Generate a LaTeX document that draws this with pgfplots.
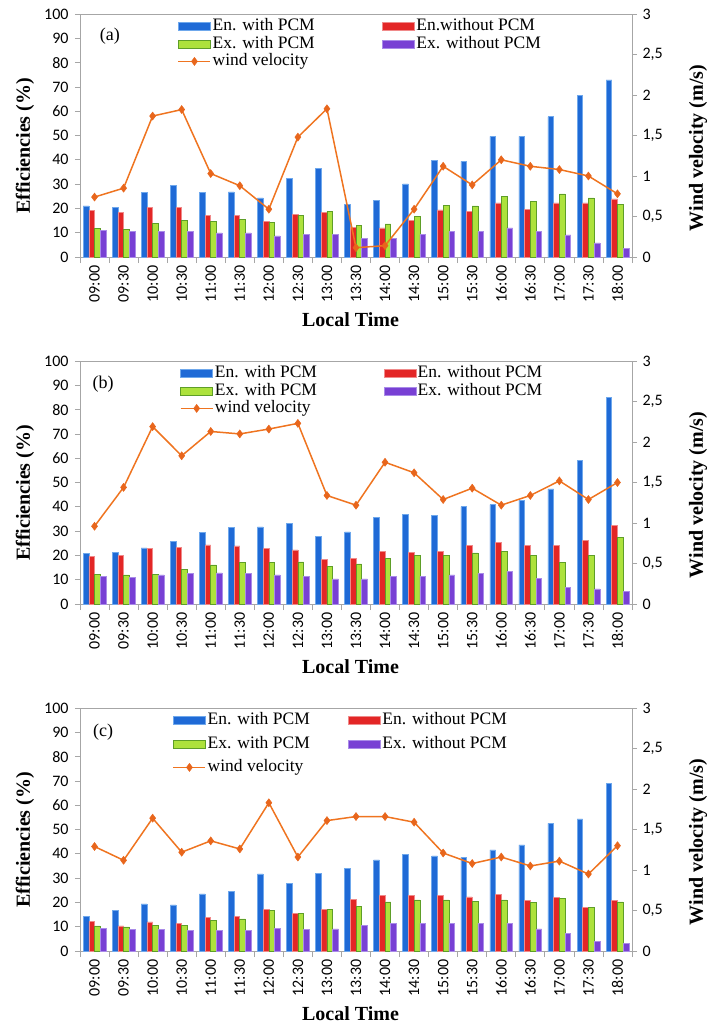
\documentclass[border=0pt]{standalone}
\usepackage{fontspec}
\setmainfont{Liberation Serif}
\newfontfamily\tickfont{Carlito}
\usepackage{pgfplots}
\usepackage{pgfplotstable}
\pgfplotsset{compat=1.18}

\definecolor{cBlue}{HTML}{1F6AD6}
\definecolor{cBlueE}{HTML}{6FA8EC}
\definecolor{cRed}{HTML}{E32626}
\definecolor{cRedE}{HTML}{F08A8A}
\definecolor{cGreen}{HTML}{ADE23C}
\definecolor{cGreenE}{HTML}{5E9E28}
\definecolor{cPurple}{HTML}{7840D4}
\definecolor{cPurpleE}{HTML}{A98BE8}
\definecolor{cOrange}{HTML}{EF7420}
\definecolor{cMark}{HTML}{E8661C}
\definecolor{cAxis}{HTML}{A6A6A6}

% x blue red green purple wind
\pgfplotstableread{
x blue red green purple wind
0  21.0 19.2 11.8 11.0 0.74
1  20.5 18.3 11.4 10.6 0.85
2  26.5 20.5 13.7 10.6 1.74
3  29.4 20.5 15.1 10.6 1.82
4  26.5 17.2 14.8  9.9 1.03
5  26.8 17.2 15.4  9.9 0.88
6  24.3 14.8 14.1  8.7 0.59
7  32.4 17.6 17.2  9.2 1.48
8  36.5 18.5 18.8  9.2 1.83
9  21.7 12.1 13.0  7.7 0.115
10 23.4 12.0 13.6  7.7 0.14
11 30.1 15.0 16.6  9.2 0.59
12 39.7 19.4 21.4 10.4 1.12
13 39.4 18.7 21.0 10.4 0.89
14 49.6 22.3 25.0 12.0 1.20
15 49.6 19.5 22.9 10.6 1.12
16 57.7 22.3 26.0  9.1 1.08
17 66.6 22.3 24.3  5.8 1.00
18 72.9 23.9 21.6  3.4 0.78
}\tabA

\pgfplotstableread{
x blue red green purple wind
0  20.9 19.5 12.2 11.4 0.96
1  21.4 19.9 12.0 11.0 1.44
2  23.1 22.8 12.2 12.0 2.19
3  25.8 23.4 14.1 12.6 1.83
4  29.5 24.3 16.1 12.8 2.13
5  31.5 23.9 17.0 12.6 2.10
6  31.7 22.9 17.0 12.0 2.16
7  33.1 22.3 17.3 11.5 2.23
8  27.9 18.3 15.4 10.3 1.34
9  29.7 18.7 16.5 10.3 1.22
10 35.7 21.7 18.8 11.4 1.75
11 37.0 21.4 19.9 11.4 1.62
12 36.3 21.7 19.9 12.0 1.29
13 40.1 24.2 21.0 12.6 1.43
14 40.9 25.4 21.7 13.3 1.22
15 42.6 24.2 19.9 10.6 1.34
16 47.4 24.2 17.2  6.9 1.52
17 59.1 26.1 19.9  6.2 1.29
18 84.9 32.4 27.3  5.2 1.50
}\tabB

\pgfplotstableread{
x blue red green purple wind
0  14.4 12.2 10.3  9.3 1.29
1  16.6 10.3  9.9  8.8 1.12
2  19.4 12.0 10.6  8.8 1.64
3  19.0 11.5 10.6  8.5 1.22
4  23.5 13.7 12.6  8.5 1.36
5  24.5 14.4 13.2  8.5 1.26
6  31.7 17.2 16.6  9.3 1.83
7  27.9 15.4 15.4  8.8 1.16
8  31.9 17.0 17.0  9.1 1.61
9  34.1 21.4 18.3 10.6 1.66
10 37.5 22.8 20.2 11.5 1.66
11 39.7 22.8 21.0 11.4 1.59
12 39.1 22.8 21.0 11.4 1.21
13 38.6 22.3 20.5 11.4 1.08
14 41.6 23.4 21.0 11.4 1.16
15 43.7 20.7 19.9  9.1 1.05
16 52.5 22.1 21.6  7.1 1.11
17 54.4 17.9 17.9  4.1 0.95
18 69.0 20.9 20.2  3.0 1.30
}\tabC

\newcommand{\tickfs}{\tickfont\fontsize{16bp}{18bp}\selectfont}
\newcommand{\labfs}{\fontsize{20bp}{22bp}\selectfont\bfseries}

\pgfplotsset{
  common/.style={
    scale only axis, width=552bp, height=243bp,
    xmin=-0.5, xmax=18.5,
    axis line style={cAxis, line width=0.8bp},
    tick style={cAxis, line width=0.8bp},
    tick align=outside,
    major tick length=5bp,
    clip=false,
  },
  panelL/.style={
    common,
    ymin=0, ymax=100,
    ytick={0,10,...,100},
    yticklabels={0,10,20,30,40,50,60,70,80,90,100},
    y tick label style={font=\tickfs, xshift=-3bp},
    xtick={0,...,18},
    xticklabels={09:00,09:30,10:00,10:30,11:00,11:30,12:00,12:30,13:00,13:30,14:00,14:30,15:00,15:30,16:00,16:30,17:00,17:30,18:00},
    x tick label style={font=\tickfs, rotate=90, anchor=east, yshift=0bp},
    major x tick style={draw=none},
    minor xtick={-0.5,0.5,...,18.5},
    minor tick length=6bp,
    xtick pos=lower, ytick pos=left,
    ybar=0pt, bar width=5.7bp,
    xlabel={Local Time},
    xlabel style={font=\labfs, at={(rel axis cs:0.49,-0.259)}, anchor=center},
    ylabel={Efficiencies (\%)},
    ylabel style={font=\labfs, at={(rel axis cs:-0.0996,0.457)}, anchor=center, rotate=0},
  },
  panelR/.style={
    common,
    ymin=0, ymax=3,
    axis x line=none,
    axis y line*=right,
    ytick={0,0.5,...,3},
    yticklabels={0,{0,5},1,{1,5},2,{2,5},3},
    y tick label style={font=\tickfs, xshift=2bp},
    ytick pos=right,
    ylabel={Wind velocity (m/s)},
    ylabel style={font=\labfs, at={(rel axis cs:1.1196,0.449)}, anchor=center, rotate=0},
    legend columns=2,
    legend cell align=left,
    legend image code/.code={\draw[#1] (0bp,-4bp) rectangle (32bp,4bp);},
    legend style={draw=none, fill=none, anchor=north west, inner sep=0pt, outer sep=0pt,
      font=\fontsize{17.5bp}{19bp}\selectfont,
      nodes={inner xsep=1.5bp, inner ysep=1bp, text height=12bp, text depth=3.5bp}},
  },
  bBlue/.style={fill=cBlue, draw=cBlueE, line width=0.6bp},
  bRed/.style={fill=cRed, draw=cRedE, line width=0.6bp},
  bGreen/.style={fill=cGreen, draw=cGreenE, line width=0.6bp},
  bPurple/.style={fill=cPurple, draw=cPurpleE, line width=0.6bp},
  wind/.style={color=cOrange, line width=1.5bp, mark=diamond*, mark size=4bp,
    mark options={fill=cMark, draw=cMark, line width=0.5bp},
    legend image code/.code={\draw[##1, mark repeat=2, mark phase=2] plot coordinates {(0bp,0bp) (16bp,0bp) (32bp,0bp)};}},
}

\begin{document}
\begin{tikzpicture}
\path[use as bounding box] (0bp,0bp) rectangle (713bp,-1026bp);

% ---------------- (a)
\begin{axis}[panelL, at={(80bp,-257bp)}, anchor=south west]
\addplot[bBlue] table[x=x,y=blue] {\tabA};
\addplot[bRed] table[x=x,y=red] {\tabA};
\addplot[bGreen] table[x=x,y=green] {\tabA};
\addplot[bPurple] table[x=x,y=purple] {\tabA};
\node[font=\fontsize{18bp}{19bp}\selectfont] at (rel axis cs:0.054,0.91) {(a)};
\end{axis}
\begin{axis}[panelR, at={(80bp,-257bp)}, anchor=south west,
  legend style={at={(rel axis cs:0.177,0.985)}, /tikz/every even column/.append style={column sep=66bp}}]
\addlegendimage{bBlue}\addlegendentry{En. with PCM}
\addlegendimage{bRed}\addlegendentry{En.without PCM}
\addlegendimage{bGreen}\addlegendentry{Ex. with PCM}
\addlegendimage{bPurple}\addlegendentry{Ex. without PCM}
\addplot[wind] table[x=x,y=wind] {\tabA};
\addlegendentry{wind velocity}
\end{axis}

% ---------------- (b)
\begin{axis}[panelL, at={(80bp,-604bp)}, anchor=south west]
\addplot[bBlue] table[x=x,y=blue] {\tabB};
\addplot[bRed] table[x=x,y=red] {\tabB};
\addplot[bGreen] table[x=x,y=green] {\tabB};
\addplot[bPurple] table[x=x,y=purple] {\tabB};
\node[font=\fontsize{18bp}{19bp}\selectfont] at (rel axis cs:0.042,0.905) {(b)};
\end{axis}
\begin{axis}[panelR, at={(80bp,-604bp)}, anchor=south west,
  legend style={at={(rel axis cs:0.181,0.985)}, /tikz/every even column/.append style={column sep=65bp}}]
\addlegendimage{bBlue}\addlegendentry{En. with PCM}
\addlegendimage{bRed}\addlegendentry{En. without PCM}
\addlegendimage{bGreen}\addlegendentry{Ex. with PCM}
\addlegendimage{bPurple}\addlegendentry{Ex. without PCM}
\addplot[wind] table[x=x,y=wind] {\tabB};
\addlegendentry{wind velocity}
\end{axis}

% ---------------- (c)
\begin{axis}[panelL, at={(80bp,-951bp)}, anchor=south west]
\addplot[bBlue] table[x=x,y=blue] {\tabC};
\addplot[bRed] table[x=x,y=red] {\tabC};
\addplot[bGreen] table[x=x,y=green] {\tabC};
\addplot[bPurple] table[x=x,y=purple] {\tabC};
\node[font=\fontsize{18bp}{19bp}\selectfont] at (rel axis cs:0.042,0.9) {(c)};
\end{axis}
\begin{axis}[panelR, at={(80bp,-951bp)}, anchor=south west,
  legend style={at={(rel axis cs:0.168,0.985)}, /tikz/every even column/.append style={column sep=37bp},
    /tikz/row sep=6bp}]
\addlegendimage{bBlue}\addlegendentry{En. with PCM}
\addlegendimage{bRed}\addlegendentry{En. without PCM}
\addlegendimage{bGreen}\addlegendentry{Ex. with PCM}
\addlegendimage{bPurple}\addlegendentry{Ex. without PCM}
\addplot[wind] table[x=x,y=wind] {\tabC};
\addlegendentry{wind velocity}
\end{axis}
\end{tikzpicture}
\end{document}
